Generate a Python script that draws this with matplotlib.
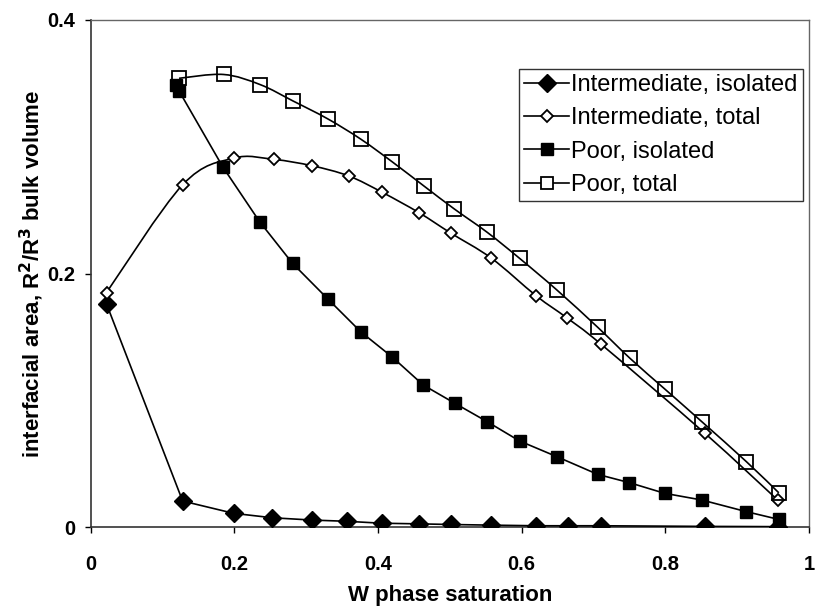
import matplotlib
matplotlib.use("Agg")
import matplotlib.pyplot as plt
import numpy as np
from matplotlib.path import Path
from matplotlib.patches import PathPatch
from matplotlib.lines import Line2D

plt.rcParams['font.family'] = ['Liberation Sans', 'DejaVu Sans']

# values
int_iso_x = [0.022, 0.128, 0.199, 0.253, 0.308, 0.357, 0.405, 0.457, 0.501, 0.557, 0.620, 0.665, 0.710, 0.855, 0.957]
int_iso_y = [0.176, 0.0205, 0.0108, 0.0073, 0.0055, 0.0045, 0.003, 0.0025, 0.002, 0.0015, 0.001, 0.001, 0.001, 0.0005, 0.0003]

int_tot_x = [0.022, 0.128, 0.199, 0.255, 0.308, 0.359, 0.406, 0.457, 0.501, 0.558, 0.620, 0.663, 0.711, 0.855, 0.957]
int_tot_y = [0.185, 0.270, 0.291, 0.290, 0.285, 0.277, 0.264, 0.248, 0.232, 0.212, 0.1825, 0.165, 0.144, 0.074, 0.021]

poor_iso_x = [0.119, 0.123, 0.184, 0.235, 0.281, 0.330, 0.376, 0.420, 0.463, 0.507, 0.552, 0.597, 0.649, 0.706, 0.750, 0.799, 0.851, 0.913, 0.958]
poor_iso_y = [0.349, 0.344, 0.284, 0.241, 0.208, 0.180, 0.154, 0.134, 0.112, 0.0976, 0.0831, 0.0679, 0.0555, 0.0415, 0.035, 0.0266, 0.0213, 0.0121, 0.006]

poor_tot_x = [0.123, 0.185, 0.236, 0.282, 0.330, 0.376, 0.420, 0.464, 0.506, 0.552, 0.597, 0.649, 0.706, 0.751, 0.799, 0.851, 0.913, 0.958]
poor_tot_y = [0.354, 0.357, 0.349, 0.336, 0.322, 0.306, 0.288, 0.269, 0.251, 0.2325, 0.212, 0.187, 0.1575, 0.133, 0.109, 0.083, 0.0515, 0.027]

x_ticks = [0, 0.2, 0.4, 0.6, 0.8, 1]
x_tick_labels = ['0', '0.2', '0.4', '0.6', '0.8', '1']
y_ticks = [0, 0.2, 0.4]
y_tick_labels = ['0', '0.2', '0.4']


def smooth_path(x, y):
    # excel-style smoothed line: bezier segments through the points
    p = np.column_stack([x, y])
    n = len(p)
    verts = [p[0]]
    codes = [Path.MOVETO]
    for i in range(n - 1):
        p0 = p[max(i - 1, 0)]
        p1 = p[i]
        p2 = p[i + 1]
        p3 = p[min(i + 2, n - 1)]
        c1 = p1 + (p2 - p0) / 6.0
        c2 = p2 - (p3 - p1) / 6.0
        verts += [c1, c2, p2]
        codes += [Path.CURVE4] * 3
    return Path(verts, codes)


fig = plt.figure(figsize=(8.15, 6.09), dpi=100)
ax = fig.add_axes([0.1113, 0.1346, 0.8813, 0.8326])

lw = 1.2

# isolated series: straight segments
ax.plot(int_iso_x, int_iso_y, color='black', lw=lw, marker='D', ms=9,
        mfc='black', mec='black', zorder=4)
ax.plot(poor_iso_x, poor_iso_y, color='black', lw=lw, marker='s', ms=9,
        mfc='black', mec='black', zorder=4)

# total series: smoothed lines
for xs, ys in [(int_tot_x, int_tot_y), (poor_tot_x, poor_tot_y)]:
    ax.add_patch(PathPatch(smooth_path(xs, ys), fill=False, ec='black', lw=lw, zorder=3))
ax.plot(int_tot_x, int_tot_y, ls='none', marker='D', ms=6.5, mfc='white',
        mec='black', mew=1.3, zorder=5)
ax.plot(poor_tot_x, poor_tot_y, ls='none', marker='s', ms=9.5, mfc='none',
        mec='black', mew=1.3, zorder=5)

ax.set_xlim(0, 1)
ax.set_ylim(0, 0.4)
ax.set_xticks(x_ticks)
ax.set_xticklabels(x_tick_labels)
ax.set_yticks(y_ticks)
ax.set_yticklabels(y_tick_labels)
ax.tick_params(direction='out', length=4, width=1, labelsize=14.5)
ax.tick_params(axis='x', pad=16)
ax.tick_params(axis='y', pad=7)
for lab in ax.get_xticklabels() + ax.get_yticklabels():
    lab.set_fontweight('bold')

for s in ['top', 'right']:
    ax.spines[s].set_color('#666666')
    ax.spines[s].set_linewidth(1)
for s in ['left', 'bottom']:
    ax.spines[s].set_color('#333333')
    ax.spines[s].set_linewidth(1.2)

ax.set_xlabel('W phase saturation', fontsize=16, fontweight='bold', labelpad=8)
ax.set_ylabel('interfacial area, R$^\\mathbf{2}$/R$^\\mathbf{3}$ bulk volume',
              fontsize=16, fontweight='bold', labelpad=1)

handles = [
    Line2D([], [], color='black', lw=lw, marker='D', ms=9, mfc='black', mec='black'),
    Line2D([], [], color='black', lw=lw, marker='D', ms=6.5, mfc='white', mec='black', mew=1.3),
    Line2D([], [], color='black', lw=lw, marker='s', ms=8, mfc='black', mec='black'),
    Line2D([], [], color='black', lw=lw, marker='s', ms=8, mfc='white', mec='black', mew=1.3),
]
labels = ['Intermediate, isolated', 'Intermediate, total', 'Poor, isolated', 'Poor, total']
leg = ax.legend(handles, labels, loc='upper right', bbox_to_anchor=(0.991, 0.903),
                borderaxespad=0, fontsize=17, frameon=True, fancybox=False,
                edgecolor='black', handlelength=1.9, handletextpad=0.1,
                labelspacing=0.48, borderpad=0.2)
leg.get_frame().set_linewidth(1)

fig.savefig('out.png', dpi=100)
